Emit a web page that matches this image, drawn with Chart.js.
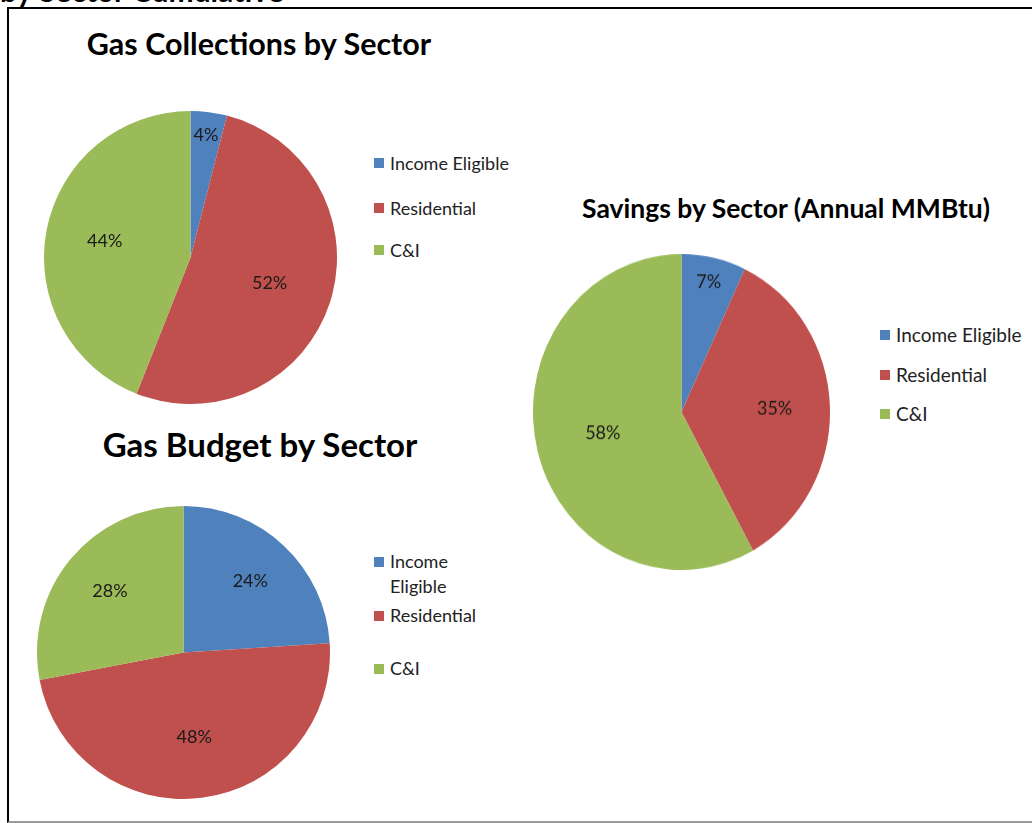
<!DOCTYPE html>
<html>
<head>
<meta charset="utf-8">
<title>Gas Program by Sector</title>
<script src="https://cdn.jsdelivr.net/npm/chart.js@4.4.1/dist/chart.umd.min.js"></script>
<style>
    body {
        margin: 0;
        width: 1032px;
        height: 823px;
        overflow: hidden;
        background: #fff;
        position: relative;
        font-family: Lato, "Open Sans", sans-serif;
        color: #000;
    }
    .cut-heading {
        position: absolute;
        left: 0;
        top: -28px;
        font-weight: bold;
        font-size: 30px;
        white-space: nowrap;
    }
    .frame {
        position: absolute;
        left: 7px;
        top: 7px;
        width: 1040px;
        height: 812px;
        border-left: 2px solid #000;
        border-top: 2px solid #000;
        border-bottom: 2px solid #9a9a9a;
    }
    .title {
        position: absolute;
        font-weight: bold;
        white-space: nowrap;
        text-align: center;
        transform: translate(-50%, -50%);
    }
    .pie {
        position: absolute;
    }
    .legend {
        position: absolute;
        font-size: 18px;
        color: #222;
        margin: 0;
        padding: 0;
        list-style: none;
    }
    .legend li {
        position: relative;
        padding-left: 16px;
        line-height: 22px;
    }
    .legend li span.box {
        position: absolute;
        left: 0;
        top: 6px;
        width: 10px;
        height: 10px;
    }
    #legendCollections li:nth-child(2) { margin-top: 23px; }
    #legendCollections li:nth-child(3) { margin-top: 20px; }
    #legendSavings { font-size: 19px; }
    #legendSavings li:nth-child(2) { margin-top: 18px; }
    #legendSavings li:nth-child(3) { margin-top: 17px; }
    #legendBudget { width: 115px; }
    #legendBudget li { line-height: 25px; }
    #legendBudget li span.box { top: 8px; }
    #legendBudget li:nth-child(2) { margin-top: 4px; }
    #legendBudget li:nth-child(3) { margin-top: 28px; }
</style>
</head>
<body>
<div class="cut-heading">by Sector Cumulative</div>
<div class="frame"></div>

<div class="title" id="titleCollections" style="left:259px; top:43px; font-size:30.5px;">Gas Collections by Sector</div>
<div class="title" id="titleSavings" style="left:786px; top:208px; font-size:26.5px;">Savings by Sector (Annual MMBtu)</div>
<div class="title" id="titleBudget" style="left:260px; top:444px; font-size:33px;">Gas Budget by Sector</div>

<canvas class="pie" id="pieCollections" width="293" height="293" style="left:44px; top:111px; width:293px; height:293px;"></canvas>
<canvas class="pie" id="pieBudget" width="293" height="293" style="left:37px; top:506px; width:293px; height:293px;"></canvas>
<canvas class="pie" id="pieSavings" width="297" height="297" style="left:533px; top:254px; width:297px; height:297px; transform-origin:0 0;"></canvas>

<ul class="legend" id="legendCollections" style="left:374px; top:152px;"></ul>
<ul class="legend" id="legendSavings" style="left:880px; top:324px;"></ul>
<ul class="legend" id="legendBudget" style="left:374px; top:549px;"></ul>

<script>
// sectors and their shares (percent)
const sectors = ['Income Eligible', 'Residential', 'C&I'];
const collectionsPct = [4, 52, 44];
const savingsPct = [7, 35, 58];
const budgetPct = [24, 48, 28];
const sectorColors = ['#4F81BD', '#C0504D', '#9BBB59'];

// the savings pie is drawn a little taller than it is wide
const savingsStretch = 316 / 297;

// Percent labels inside each slice: thin slices sit near the rim,
// bigger slices pull their label in toward the centre
const sliceLabels = {
    id: 'sliceLabels',
    afterDatasetsDraw(chart, args, opts) {
        const ctx = chart.ctx;
        const data = chart.data.datasets[0].data;
        const total = data.reduce((a, b) => a + b, 0);
        const stretch = opts.stretch || 1;
        const arcs = chart.getDatasetMeta(0).data;
        ctx.save();
        ctx.font = '18px Lato, "Open Sans", sans-serif';
        ctx.fillStyle = '#1a1a1a';
        ctx.textAlign = 'center';
        ctx.textBaseline = 'middle';
        arcs.forEach((arc, i) => {
            const share = data[i] / total;
            const mid = (arc.startAngle + arc.endAngle) / 2;
            const frac = share < 0.1 ? 0.84 : 0.75 - 0.35 * share;
            const x = arc.x + Math.cos(mid) * arc.outerRadius * frac;
            const y = arc.y + Math.sin(mid) * arc.outerRadius * frac;
            ctx.save();
            ctx.translate(x, y);
            ctx.scale(1, 1 / stretch);
            ctx.fillText(data[i] + '%', 0, 0);
            ctx.restore();
        });
        ctx.restore();
    }
};

function makePie(canvasId, values, stretch) {
    const canvas = document.getElementById(canvasId);
    if (stretch && stretch !== 1) {
        canvas.style.transform = `scaleY(${stretch})`;
    }
    return new Chart(canvas.getContext('2d'), {
        type: 'pie',
        data: {
            labels: sectors,
            datasets: [{
                data: values,
                backgroundColor: sectorColors,
                borderWidth: 0
            }]
        },
        options: {
            responsive: false,
            animation: false,
            layout: { padding: 0 },
            plugins: {
                legend: { display: false },
                tooltip: { enabled: false },
                sliceLabels: { stretch: stretch || 1 }
            }
        },
        plugins: [sliceLabels]
    });
}

function makeLegend(listId) {
    const ul = document.getElementById(listId);
    sectors.forEach((name, i) => {
        const li = document.createElement('li');
        const box = document.createElement('span');
        box.className = 'box';
        box.style.background = sectorColors[i];
        li.appendChild(box);
        li.appendChild(document.createTextNode(name));
        ul.appendChild(li);
    });
}

makePie('pieCollections', collectionsPct);
makePie('pieBudget', budgetPct);
makePie('pieSavings', savingsPct, savingsStretch);

makeLegend('legendCollections');
makeLegend('legendSavings');
makeLegend('legendBudget');
</script>
</body>
</html>
